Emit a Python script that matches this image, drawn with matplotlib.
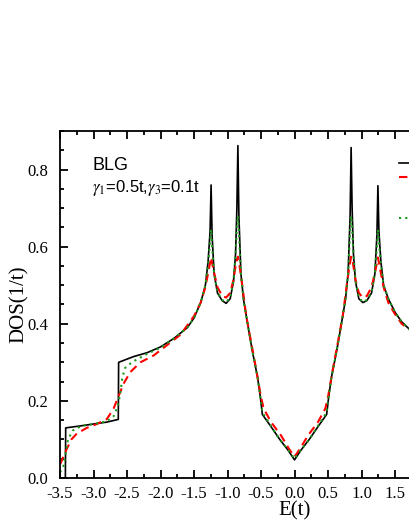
import matplotlib
matplotlib.use("Agg")
import matplotlib.pyplot as plt
from matplotlib.ticker import MultipleLocator

# black solid curve
e_black = [-3.50, -3.42, -3.415, -3.2, -3.0, -2.8, -2.63, -2.625, -2.4, -2.2, -2.0,
           -1.8, -1.6, -1.5, -1.4, -1.33, -1.29, -1.26, -1.245, -1.23, -1.20, -1.15,
           -1.08, -1.02, -0.96, -0.91, -0.88, -0.86, -0.845, -0.83, -0.80, -0.76,
           -0.70, -0.63, -0.55, -0.51, -0.48, -0.35, -0.22, -0.10, 0.0,
           0.10, 0.22, 0.35, 0.48, 0.51, 0.55, 0.63, 0.70, 0.76, 0.80, 0.83, 0.845,
           0.86, 0.88, 0.91, 0.96, 1.02, 1.08, 1.15, 1.20, 1.23, 1.245, 1.26, 1.29,
           1.33, 1.40, 1.50, 1.60, 1.72]
dos_black = [0.0, 0.0, 0.13, 0.135, 0.14, 0.145, 0.152, 0.30, 0.315, 0.325, 0.34,
             0.362, 0.39, 0.415, 0.455, 0.50, 0.56, 0.64, 0.76, 0.63, 0.53, 0.48,
             0.46, 0.453, 0.465, 0.51, 0.58, 0.70, 0.862, 0.68, 0.53, 0.462,
             0.40, 0.33, 0.26, 0.21, 0.165, 0.133, 0.10, 0.073, 0.047,
             0.073, 0.10, 0.133, 0.165, 0.21, 0.26, 0.33, 0.40, 0.462, 0.53, 0.68, 0.857,
             0.70, 0.58, 0.51, 0.465, 0.455, 0.46, 0.48, 0.53, 0.63, 0.758, 0.64, 0.56,
             0.50, 0.465, 0.43, 0.405, 0.385]

# red dashed curve
e_red = [-3.50, -3.45, -3.40, -3.33, -3.25, -3.10, -2.95, -2.80, -2.70, -2.62,
         -2.55, -2.45, -2.30, -2.10, -1.90, -1.70, -1.50, -1.40, -1.33, -1.28,
         -1.245, -1.21, -1.15, -1.08, -1.02, -0.96, -0.91, -0.87, -0.845, -0.82,
         -0.78, -0.72, -0.65, -0.57, -0.50, -0.46, -0.35, -0.20, -0.08, 0.0,
         0.08, 0.20, 0.35, 0.46, 0.50, 0.57, 0.65, 0.72, 0.78, 0.82, 0.845, 0.87,
         0.91, 0.96, 1.02, 1.08, 1.15, 1.21, 1.245, 1.28, 1.33, 1.40, 1.50, 1.60, 1.72]
dos_red = [0.035, 0.055, 0.075, 0.10, 0.115, 0.13, 0.14, 0.153, 0.18, 0.215,
           0.245, 0.275, 0.30, 0.318, 0.345, 0.372, 0.42, 0.455, 0.495, 0.54,
           0.572, 0.54, 0.495, 0.472, 0.468, 0.48, 0.515, 0.56, 0.574, 0.55,
           0.50, 0.42, 0.355, 0.28, 0.21, 0.18, 0.145, 0.11, 0.075, 0.055,
           0.075, 0.11, 0.145, 0.18, 0.21, 0.28, 0.355, 0.42, 0.50, 0.55, 0.574, 0.56,
           0.515, 0.48, 0.468, 0.472, 0.495, 0.54, 0.572, 0.54, 0.495, 0.455, 0.425, 0.40, 0.385]

# green dotted curve
e_green = [-3.50, -3.45, -3.41, -3.38, -3.31, -3.18, -3.0, -2.8, -2.70, -2.64,
           -2.60, -2.57, -2.53, -2.43, -2.2, -2.0, -1.8, -1.6, -1.5, -1.4, -1.33,
           -1.29, -1.26, -1.245, -1.23, -1.20, -1.15, -1.08, -1.02, -0.96, -0.91,
           -0.88, -0.86, -0.845, -0.83, -0.80, -0.76, -0.70, -0.63, -0.55, -0.51,
           -0.48, -0.35, -0.22, -0.10, 0.0,
           0.10, 0.22, 0.35, 0.48, 0.51, 0.55, 0.63, 0.70, 0.76, 0.80, 0.83, 0.845,
           0.86, 0.88, 0.91, 0.96, 1.02, 1.08, 1.15, 1.20, 1.23, 1.245, 1.26, 1.29,
           1.33, 1.40, 1.50, 1.60, 1.72]
dos_green = [0.015, 0.03, 0.07, 0.10, 0.123, 0.135, 0.14, 0.147, 0.16, 0.185,
             0.22, 0.26, 0.285, 0.30, 0.322, 0.338, 0.362, 0.39, 0.415, 0.455, 0.50,
             0.555, 0.61, 0.645, 0.60, 0.53, 0.482, 0.462, 0.456, 0.468, 0.512,
             0.58, 0.65, 0.68, 0.64, 0.53, 0.462, 0.40, 0.33, 0.26, 0.212,
             0.17, 0.135, 0.10, 0.074, 0.05,
             0.074, 0.10, 0.135, 0.17, 0.212, 0.26, 0.33, 0.40, 0.462, 0.53, 0.64, 0.68,
             0.65, 0.58, 0.512, 0.468, 0.456, 0.462, 0.482, 0.53, 0.60, 0.645, 0.61, 0.555,
             0.50, 0.465, 0.43, 0.405, 0.385]

plt.rcParams['font.family'] = ['Liberation Serif', 'DejaVu Serif']
plt.rcParams['mathtext.fontset'] = 'stix'

fig = plt.figure(figsize=(4.09, 5.29), dpi=100)
# the axes run past the right edge of the figure, like the cropped original
ax = fig.add_axes([60 / 409, 51 / 529, 469 / 409, 347 / 529])

l1, = ax.plot(e_black, dos_black, color='black', lw=1.2, label='exact')
l2, = ax.plot(e_red, dos_red, color='red', lw=1.5, ls=(0, (4, 2.5)), label='CPA')
l3, = ax.plot(e_green, dos_green, color='#1a9a1a', lw=1.5, ls=(0, (1, 2)), label='ATA')

ax.set_xlim(-3.5, 3.5)
ax.set_ylim(0.0, 0.9)
ax.xaxis.set_major_locator(MultipleLocator(0.5))
ax.xaxis.set_minor_locator(MultipleLocator(0.25))
ax.yaxis.set_major_locator(MultipleLocator(0.2))
ax.yaxis.set_minor_locator(MultipleLocator(0.05))
ax.xaxis.set_major_formatter(plt.FormatStrFormatter('%.1f'))
ax.yaxis.set_major_formatter(plt.FormatStrFormatter('%.1f'))
ax.tick_params(which='both', direction='in', top=True, right=True, width=1.3, labelsize=12)
ax.tick_params(which='major', length=6)
ax.tick_params(which='minor', length=3)
ax.tick_params(axis='x', which='major', pad=5.5)
ax.tick_params(axis='y', which='major', pad=8.5)
for s in ax.spines.values():
    s.set_linewidth(1.3)

ax.set_xlabel('E(t)', fontsize=15, labelpad=0)
ax.set_ylabel('DOS(1/t)', fontsize=15, labelpad=-1)

ax.text(92 / 409, 1 - 170 / 529, 'BLG', transform=fig.transFigure,
        family='Liberation Sans', fontsize=13)
ax.text(92 / 409, 1 - 192 / 529, r'$\gamma_1$=0.5t,$\gamma_3$=0.1t', transform=fig.transFigure,
        family='Liberation Sans', fontsize=12)

leg1 = ax.legend(handles=[l1, l2], loc='center left', bbox_to_anchor=(399 / 409, 1 - 171.5 / 529),
                 bbox_transform=fig.transFigure, frameon=False, borderpad=0, borderaxespad=0,
                 handlelength=2.5, labelspacing=0.1, fontsize=10)
ax.add_artist(leg1)
ax.legend(handles=[l3], loc='center left', bbox_to_anchor=(399 / 409, 1 - 219 / 529),
          bbox_transform=fig.transFigure, frameon=False, borderpad=0, borderaxespad=0,
          handlelength=2.5, fontsize=10)

fig.savefig('out.png', dpi=100)
